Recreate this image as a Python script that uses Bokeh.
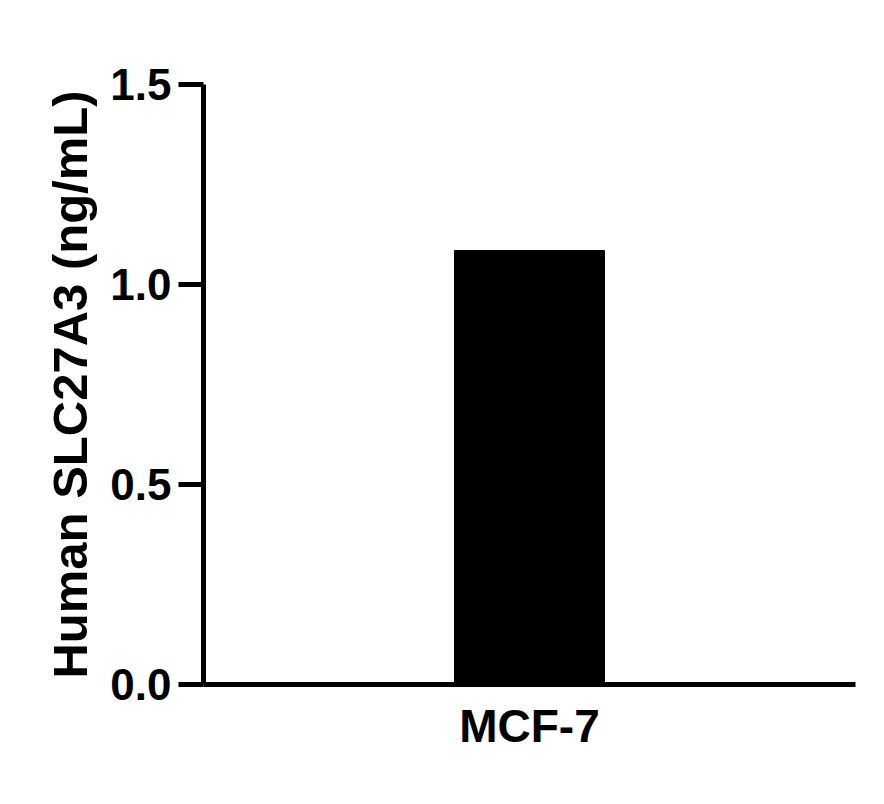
from bokeh.plotting import figure
from bokeh.models import Range1d, FixedTicker, PrintfTickFormatter, ColumnDataSource
from bokeh.embed import file_html
from bokeh.resources import INLINE

categories = ["MCF-7"]
values = [1.085]
y_ticks = [0.0, 0.5, 1.0, 1.5]
y_label = "Human SLC27A3 (ng/mL)"

src = ColumnDataSource(data=dict(cat=categories, val=values))

p = figure(x_range=categories, y_range=Range1d(0, 1.5),
           width=868, height=788, output_backend="svg", toolbar_location=None,
           min_border_left=203, min_border_top=84, min_border_right=13, min_border_bottom=104)

p.vbar(x="cat", top="val", width=0.23, source=src, fill_color="black", line_color="black")

p.outline_line_color = None
p.xgrid.grid_line_color = None
p.ygrid.grid_line_color = None
p.background_fill_color = "white"
p.border_fill_color = "white"

FONT = "Liberation Sans"

ya = p.yaxis[0]
ya.ticker = FixedTicker(ticks=y_ticks)
ya.formatter = PrintfTickFormatter(format="%.1f")
ya.axis_line_width = 5
ya.axis_line_color = "black"
ya.major_tick_line_width = 5
ya.major_tick_line_color = "black"
ya.major_tick_out = 25
ya.major_tick_in = 0
ya.minor_tick_line_color = None
ya.major_label_text_font = FONT
ya.major_label_text_font_style = "bold"
ya.major_label_text_font_size = "44px"
ya.major_label_text_color = "black"
ya.major_label_standoff = 7
ya.axis_label = y_label
ya.axis_label_text_font = FONT
ya.axis_label_text_font_style = "bold"
ya.axis_label_text_font_size = "49px"
ya.axis_label_text_color = "black"
ya.axis_label_standoff = 10

xa = p.xaxis[0]
xa.axis_line_width = 5
xa.axis_line_color = "black"
xa.major_tick_line_color = None
xa.minor_tick_line_color = None
xa.major_tick_out = 0
xa.major_tick_in = 0
xa.major_label_text_font = FONT
xa.major_label_text_font_style = "bold"
xa.major_label_text_font_size = "46px"
xa.major_label_text_color = "black"
xa.major_label_standoff = 15

open("out.html", "w").write(file_html(p, INLINE))
